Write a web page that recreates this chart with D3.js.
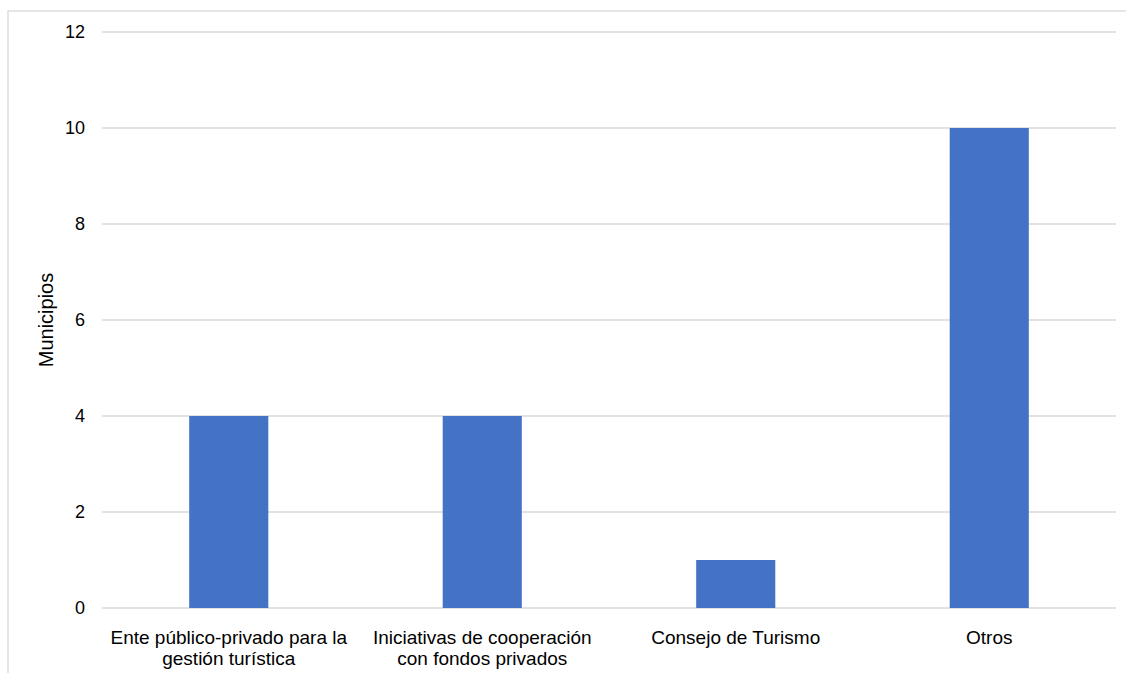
<!DOCTYPE html>
<html>
<head>
<meta charset="utf-8">
<script src="https://cdn.jsdelivr.net/npm/d3@7"></script>
<style>
  html, body { margin: 0; padding: 0; background: #fff; }
  svg text { font-family: "Liberation Sans", Arial, sans-serif; }
</style>
</head>
<body>
<svg id="chart" width="1126" height="673"></svg>
<script>
// Categories (multi-line labels) and counts of municipalities
const categories = [
  ["Ente público-privado para la", "gestión turística"],
  ["Iniciativas de cooperación", "con fondos privados"],
  ["Consejo de Turismo"],
  ["Otros"]
];
const values = [4, 4, 1, 10];
const yTicks = [0, 2, 4, 6, 8, 10, 12];
const yTitle = "Municipios";

const svg = d3.select("#chart");

// outer chart frame
svg.append("rect")
  .attr("x", 8).attr("y", 11)
  .attr("width", 1130).attr("height", 680)
  .attr("fill", "none")
  .attr("stroke", "#d9d9d9")
  .attr("stroke-width", 1.3);

const plot = { left: 102, right: 1116, top: 32, bottom: 608 };

const x = d3.scaleBand()
  .domain(d3.range(categories.length))
  .range([plot.left, plot.right])
  .padding(0);

const y = d3.scaleLinear()
  .domain([0, 12])
  .range([plot.bottom, plot.top]);

const barW = x.bandwidth() * 0.312;

// horizontal gridlines
svg.append("g")
  .selectAll("line")
  .data(yTicks)
  .join("line")
  .attr("x1", plot.left).attr("x2", plot.right)
  .attr("y1", d => y(d)).attr("y2", d => y(d))
  .attr("stroke", "#d9d9d9")
  .attr("stroke-width", 1.5);

// y tick labels
svg.append("g")
  .selectAll("text")
  .data(yTicks)
  .join("text")
  .attr("x", 85)
  .attr("y", d => y(d))
  .attr("dy", "0.35em")
  .attr("text-anchor", "end")
  .attr("font-size", 18)
  .attr("fill", "#000")
  .text(d => d);

// bars
svg.append("g")
  .selectAll("rect")
  .data(values)
  .join("rect")
  .attr("x", (d, i) => x(i) + x.bandwidth() / 2 - barW / 2)
  .attr("width", barW)
  .attr("y", d => y(d))
  .attr("height", d => y(0) - y(d))
  .attr("fill", "#4472c4");

// category labels
const labels = svg.append("g")
  .selectAll("text")
  .data(categories)
  .join("text")
  .attr("text-anchor", "middle")
  .attr("font-size", 19)
  .attr("fill", "#000")
  .attr("transform", (d, i) => `translate(${x(i) + x.bandwidth() / 2},644)`);

labels.selectAll("tspan")
  .data(d => d)
  .join("tspan")
  .attr("x", 0)
  .attr("y", (d, j) => j * 21)
  .text(d => d);

// y axis title
svg.append("text")
  .attr("transform", `translate(53,${(plot.top + plot.bottom) / 2}) rotate(-90)`)
  .attr("text-anchor", "middle")
  .attr("font-size", 20)
  .attr("fill", "#000")
  .text(yTitle);
</script>
</body>
</html>
